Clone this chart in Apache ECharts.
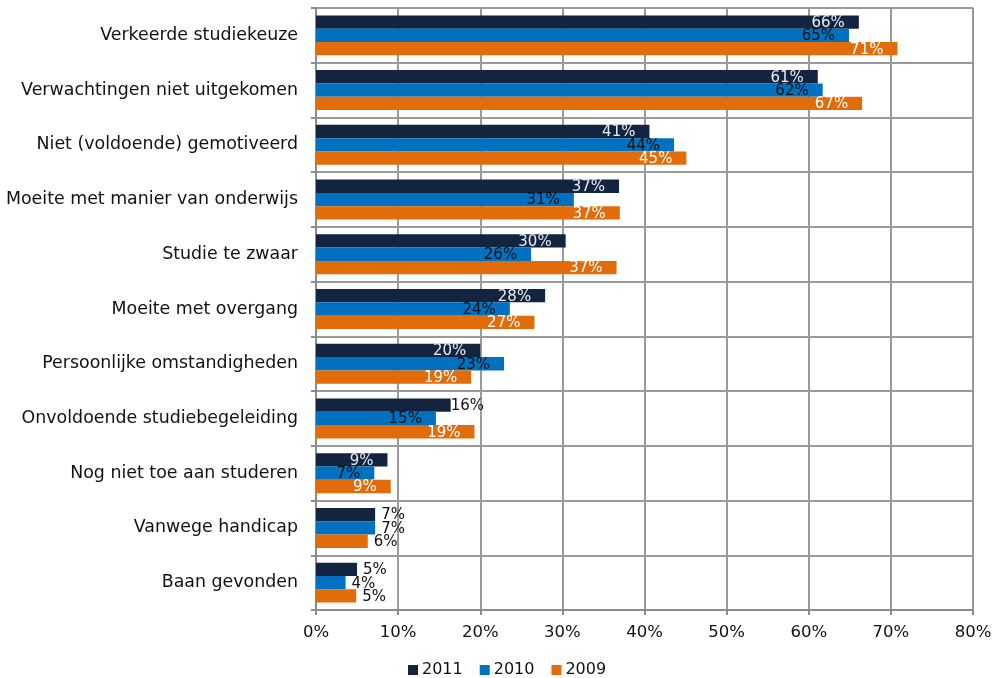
<!DOCTYPE html>
<html>
<head>
<meta charset="utf-8">
<script src="https://cdn.jsdelivr.net/npm/echarts@6/dist/echarts.min.js"></script>
<style>html,body{margin:0;padding:0;background:#fff}#c{width:1001px;height:678px}</style>
</head>
<body>
<div id="c"></div>
<script>
const categories = [
  'Verkeerde studiekeuze',
  'Verwachtingen niet uitgekomen',
  'Niet (voldoende) gemotiveerd',
  'Moeite met manier van onderwijs',
  'Studie te zwaar',
  'Moeite met overgang',
  'Persoonlijke omstandigheden',
  'Onvoldoende studiebegeleiding',
  'Nog niet toe aan studeren',
  'Vanwege handicap',
  'Baan gevonden'
];
const seriesNames = ['2011', '2010', '2009'];
const values2011 = [66.1, 61.1, 40.6, 36.9, 30.4, 27.9, 20.0, 16.4, 8.7, 7.2, 5.0];
const values2010 = [64.9, 61.7, 43.6, 31.4, 26.2, 23.6, 22.9, 14.6, 7.1, 7.2, 3.6];
const values2009 = [70.8, 66.5, 45.1, 37.0, 36.6, 26.6, 18.9, 19.3, 9.1, 6.3, 4.9];
const xTicks = [0, 10, 20, 30, 40, 50, 60, 70, 80];

const colors = ['#12243f', '#0070c0', '#e36c0a'];
const insideText = ['#e8ecf2', '#111111', '#ffffff'];
const outsideIdx = [[7, 9, 10], [9, 10], [9, 10]];
const FONT = "'DejaVu Sans', Verdana, sans-serif";

function mkSeries(name, vals, si) {
  return {
    name: name,
    type: 'bar',
    barGap: '0%',
    barCategoryGap: '27%',
    itemStyle: { color: colors[si] },
    data: vals.map((v, i) => {
      const outside = outsideIdx[si].indexOf(i) >= 0;
      return {
        value: v,
        label: outside
          ? { position: 'right', distance: si === 0 && i === 7 ? 0 : 6, color: '#111', offset: [0, 1] }
          : { position: 'insideRight', distance: 0, offset: [-14, 1], color: insideText[si] }
      };
    }),
    label: {
      show: true,
      fontFamily: FONT,
      fontSize: 15,
      formatter: p => Math.round(p.value) + '%'
    }
  };
}

const chart = echarts.init(document.getElementById('c'));
chart.setOption({
  animation: false,
  textStyle: { fontFamily: FONT },
  legend: {
    top: 657,
    left: 403,
    itemWidth: 10,
    itemHeight: 10,
    itemGap: 17,
    icon: 'rect',
    textStyle: { fontFamily: FONT, fontSize: 16, color: '#111', padding: [0, 0, 0, -1] },
    data: seriesNames
  },
  grid: { left: 316, right: 28, top: 8, bottom: 68, containLabel: false },
  xAxis: {
    type: 'value',
    min: 0,
    max: 80,
    interval: 10,
    axisLine: { show: true, lineStyle: { color: '#8c8c8c', width: 2 } },
    axisTick: { show: true, length: 5, lineStyle: { color: '#8c8c8c', width: 2 } },
    splitLine: { show: true, lineStyle: { color: '#9a9a9a', width: 2 } },
    axisLabel: {
      fontFamily: FONT, fontSize: 16.5, color: '#111', margin: 14,
      formatter: v => xTicks.indexOf(v) >= 0 ? v + '%' : ''
    }
  },
  yAxis: {
    type: 'category',
    inverse: true,
    data: categories,
    axisLine: { show: true, lineStyle: { color: '#8c8c8c', width: 2 } },
    axisTick: { show: true, length: 5, lineStyle: { color: '#8c8c8c', width: 2 } },
    splitLine: { show: true, lineStyle: { color: '#9a9a9a', width: 2 } },
    axisLabel: { fontFamily: FONT, fontSize: 17.4, color: '#111', margin: 18 }
  },
  series: [
    mkSeries(seriesNames[0], values2011, 0),
    mkSeries(seriesNames[1], values2010, 1),
    mkSeries(seriesNames[2], values2009, 2)
  ]
});
</script>
</body>
</html>
